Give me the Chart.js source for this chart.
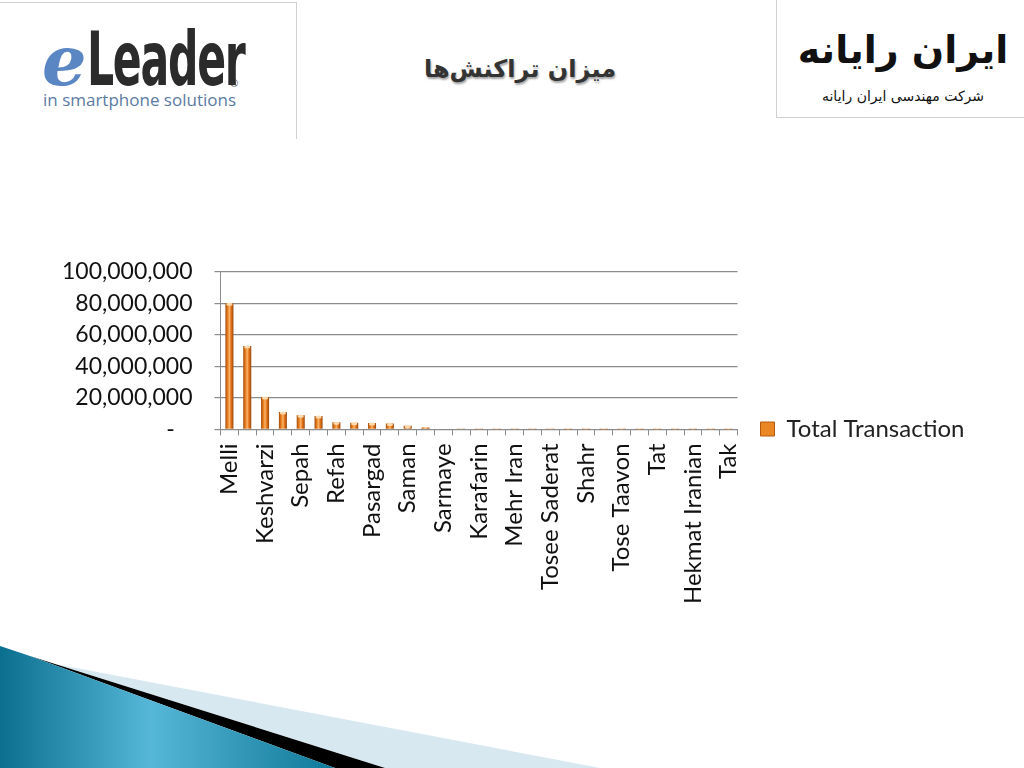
<!DOCTYPE html>
<html>
<head>
<meta charset="utf-8">
<script src="https://cdn.jsdelivr.net/npm/chart.js@4.4.0/dist/chart.umd.min.js"></script>
<style>
  html, body { margin: 0; padding: 0; background: #fff; }
  body { width: 1024px; height: 768px; position: relative; overflow: hidden; font-family: Lato, sans-serif; }
  #logoLeft { position: absolute; left: 0; top: 2px; width: 296px; height: 136px; border-top: 1px solid #d0d0d0; border-right: 1px solid #d0d0d0; }
  #logoLeft .big { position: absolute; left: 42px; top: 14px; font-size: 74px; line-height: 80px; white-space: nowrap; }
  #logoLeft .e { color: #5b86c4; font-family: "DejaVu Serif", serif; font-style: italic; font-weight: bold; font-size: 70px; }
  #logoLeft .leader { color: #2b2b2b; font-family: "DejaVu Sans Condensed", "Liberation Sans Narrow", sans-serif; font-weight: bold; display: inline-block; transform: scaleX(0.64); transform-origin: left; letter-spacing: -2px; }
  #logoLeft .reg { position: absolute; left: 230px; top: 74px; font-size: 10px; color: #333; }
  #logoLeft .sub { position: absolute; left: 43px; top: 85px; font-size: 17px; color: #5a7ba3; font-family: "Open Sans", sans-serif; }
  #logoRight { position: absolute; left: 776px; top: 0; width: 248px; height: 117px; border-left: 1px solid #d0d0d0; border-bottom: 1px solid #d0d0d0; }
  #logoRight .big { position: absolute; left: 10px; top: 26px; width: 232px; text-align: center; font-family: "DejaVu Sans", sans-serif; font-weight: bold; font-size: 38px; line-height: 48px; color: #111; direction: rtl; white-space: nowrap; }
  #logoRight .sub { position: absolute; left: 10px; top: 88px; width: 232px; text-align: center; font-family: "DejaVu Sans", sans-serif; font-size: 14px; color: #111; direction: rtl; white-space: nowrap; }
  #title { position: absolute; left: 380px; top: 55px; width: 280px; text-align: center; font-family: "DejaVu Sans", sans-serif; font-weight: bold; font-size: 24px; color: #333; direction: rtl; text-shadow: 1px 2px 2px rgba(0,0,0,0.35); }
  #wrap { position: absolute; left: 40px; top: 236px; width: 930px; height: 376px; }
  #deco { position: absolute; left: 0; top: 620px; }
</style>
</head>
<body>
<div id="logoLeft">
  <div class="big"><span class="e">e</span><span class="leader">Leader</span></div>
  <div class="reg">®</div>
  <div class="sub">in smartphone solutions</div>
</div>
<div id="title">میزان تراکنش‌ها</div>
<div id="logoRight">
  <div class="big">ایران رایانه</div>
  <div class="sub">شرکت مهندسی ایران رایانه</div>
</div>
<div id="wrap"><canvas id="chart"></canvas></div>
<svg id="deco" width="1024" height="148" viewBox="0 620 1024 148">
  <defs>
    <linearGradient id="blue" x1="0" y1="0" x2="1" y2="0">
      <stop offset="0" stop-color="#0b6f8f"/>
      <stop offset="0.45" stop-color="#56b7d8"/>
      <stop offset="1" stop-color="#0f7898"/>
    </linearGradient>
  </defs>
  <polygon points="55,664 600,768 385,768" fill="#d7e8f1"/>
  <polygon points="30,656 55,664 385,768 335,768" fill="#000"/>
  <polygon points="0,646 30,656 335,768 0,768" fill="url(#blue)"/>
</svg>
<script>
const banks = ['Melli', 'Saderat', 'Keshvarzi', 'Mellat', 'Sepah', 'Tejarat', 'Refah', 'Parsian',
  'Pasargad', 'Eghtesad Novin', 'Saman', 'Sina', 'Sarmaye', 'Ansar', 'Karafarin', 'Post Bank',
  'Mehr Iran', 'Dey', 'Tosee Saderat', 'Ghavamin', 'Shahr', 'Gardeshgari', 'Tose Taavon', 'Kosar',
  'Tat', 'Iran Zamin', 'Hekmat Iranian', 'Khavarmianeh', 'Tak'];
const transactions = [80000000, 53000000, 20500000, 11000000, 9000000, 8600000, 4600000, 4200000,
  4100000, 3800000, 2400000, 1200000, 400000, 250000, 150000, 100000,
  80000, 60000, 50000, 40000, 30000, 25000, 20000, 15000,
  12000, 10000, 8000, 5000, 3000];
const yTicks = [0, 20000000, 40000000, 60000000, 80000000, 100000000];

const barPct = 0.5, catPct = 0.9;

function barFill(c) {
  const chart = c.chart;
  const xs = chart.scales.x;
  if (!xs || c.dataIndex === undefined) return '#e46c0a';
  const cx = xs.getPixelForValue(c.dataIndex);
  const w = xs.width / banks.length * barPct * catPct;
  if (!isFinite(cx) || !isFinite(w) || w <= 0) return '#e46c0a';
  const g = chart.ctx.createLinearGradient(cx - w / 2, 0, cx + w / 2, 0);
  g.addColorStop(0, '#a44c0a');
  g.addColorStop(0.3, '#ec8121');
  g.addColorStop(0.5, '#f9b56d');
  g.addColorStop(0.7, '#e7741a');
  g.addColorStop(1, '#97470a');
  return g;
}

// light cap on top of each cylinder
const capPlugin = {
  id: 'caps',
  afterDatasetsDraw(chart) {
    const ctx = chart.ctx;
    chart.getDatasetMeta(0).data.forEach(bar => {
      if (bar.base - bar.y < 2) return;
      ctx.save();
      ctx.fillStyle = '#fcd9ae';
      ctx.beginPath();
      ctx.ellipse(bar.x, bar.y + 1, Math.max(bar.width / 2 - 1, 0.5), 1.5, 0, 0, Math.PI * 2);
      ctx.fill();
      ctx.restore();
    });
  }
};

new Chart(document.getElementById('chart'), {
  type: 'bar',
  data: {
    labels: banks,
    datasets: [{
      label: 'Total Transaction',
      data: transactions,
      backgroundColor: barFill,
      borderWidth: 0,
      barPercentage: barPct,
      categoryPercentage: catPct
    }]
  },
  options: {
    responsive: true,
    maintainAspectRatio: false,
    animation: false,
    layout: { padding: { top: 10, right: 0 } },
    plugins: {
      tooltip: { enabled: false },
      legend: {
        position: 'right',
        labels: {
          color: '#222',
          font: { family: 'Lato', size: 24 },
          boxWidth: 14,
          boxHeight: 14,
          padding: 23,
          generateLabels(chart) {
            return Chart.defaults.plugins.legend.labels.generateLabels(chart).map(l => {
              l.fillStyle = '#ea8624';
              l.strokeStyle = '#b5590c';
              l.lineWidth = 1;
              return l;
            });
          }
        }
      }
    },
    scales: {
      x: {
        grid: { display: true, drawOnChartArea: false, drawTicks: true, tickLength: 6, offset: true, color: '#8c8c8c' },
        border: { display: true, color: '#8c8c8c' },
        ticks: {
          autoSkip: false,
          minRotation: 90,
          maxRotation: 90,
          padding: 8,
          color: '#111',
          font: { family: 'Lato', size: 24 },
          callback: (v, i) => (i % 2 === 0 ? banks[i] : '')
        }
      },
      y: {
        min: 0,
        max: 100000000,
        afterBuildTicks: axis => { axis.ticks = yTicks.map(v => ({ value: v })); },
        grid: { color: '#8c8c8c', lineWidth: 1.2, tickLength: 6 },
        border: { display: true, color: '#8c8c8c' },
        ticks: {
          padding: 22,
          color: '#111',
          font: { family: 'Lato', size: 23 },
          callback: v => (v === 0 ? '-   ' : v.toLocaleString('en-US'))
        }
      }
    }
  },
  plugins: [capPlugin]
});
</script>
</body>
</html>
